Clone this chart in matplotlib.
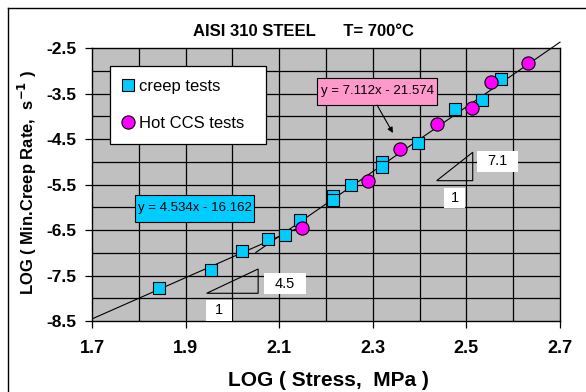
import matplotlib
matplotlib.use("Agg")
import matplotlib.pyplot as plt
from matplotlib.patches import Rectangle, Polygon
from matplotlib.lines import Line2D
import numpy as np

plt.rcParams['font.family'] = ['Liberation Sans', 'DejaVu Sans']

# ---- data ----
creep_x = [1.843, 1.954, 2.020, 2.077, 2.113, 2.144, 2.216, 2.216, 2.253,
           2.320, 2.320, 2.396, 2.476, 2.534, 2.573]
creep_y = [-7.78, -7.37, -6.96, -6.70, -6.60, -6.29, -5.75, -5.85, -5.52,
           -5.01, -5.11, -4.59, -3.83, -3.64, -3.19]
ccs_x = [2.149, 2.289, 2.358, 2.437, 2.511, 2.552, 2.631]
ccs_y = [-6.45, -5.42, -4.73, -4.18, -3.81, -3.24, -2.84]

fit_low = (4.534, -16.162)
fit_high = (7.112, -21.574)
fit_low_range = [1.7, 2.15]
fit_high_range = [2.05, 2.7]

x_ticks = [1.7, 1.9, 2.1, 2.3, 2.5, 2.7]
y_ticks = [-2.5, -3.5, -4.5, -5.5, -6.5, -7.5, -8.5]

fig = plt.figure(figsize=(5.86, 3.92), dpi=100)
ax = fig.add_axes([92/586, 1-321/392, 468/586, 273/392])
ax.set_facecolor('#C0C0C0')
ax.set_xlim(1.7, 2.7)
ax.set_ylim(-8.5, -2.5)

# grid
for gx in np.arange(1.8, 2.65, 0.1):
    ax.axvline(gx, color='black', lw=0.9, zorder=1)
for gy in np.arange(-8.0, -2.6, 0.5):
    ax.axhline(gy, color='black', lw=0.9, zorder=1)

ax.set_xticks(x_ticks)
ax.set_xticklabels([f"{v:.1f}" for v in x_ticks])
ax.set_yticks(y_ticks)
ax.set_yticklabels([f"{v:.1f}" for v in y_ticks])
ax.tick_params(axis='x', direction='out', length=5, width=0.9, pad=9, labelsize=13)
ax.tick_params(axis='y', direction='out', length=5, width=0.9, pad=6, labelsize=12.5)
for lab in ax.get_xticklabels() + ax.get_yticklabels():
    lab.set_fontweight('bold')
for s in ax.spines.values():
    s.set_linewidth(1.0)

# fit lines
xl = np.array(fit_low_range)
ax.plot(xl, fit_low[0]*xl + fit_low[1], color='black', lw=0.8, zorder=3)
xh = np.array(fit_high_range)
ax.plot(xh, fit_high[0]*xh + fit_high[1], color='black', lw=0.8, zorder=3, clip_on=False)

# data
ax.plot(creep_x, creep_y, 's', ms=8, mfc='#00CCFF', mec='black', mew=0.8,
        zorder=4, label='creep tests')
ax.plot(ccs_x, ccs_y, 'o', ms=9.5, mfc='#FF00FF', mec='black', mew=0.8,
        zorder=5, label='Hot CCS tests  ')

leg = ax.legend(loc='upper left', bbox_to_anchor=(0.0385, 0.934), borderaxespad=0,
                fontsize=12, frameon=True, fancybox=False, edgecolor='black',
                framealpha=1, handlelength=0.7, handletextpad=0.3,
                labelspacing=1.35, borderpad=0.75)
leg.get_frame().set_linewidth(0.9)
leg.set_zorder(6)

# equation boxes
def box(x0, x1, y0, y1, fc):
    ax.add_patch(Rectangle((x0, y0), x1-x0, y1-y0, facecolor=fc, edgecolor='black',
                           lw=0.8, zorder=7))

box(2.1808, 2.4372, -3.753, -3.159, '#FF99CC')
ax.text(2.309, -3.456, 'y = 7.112x - 21.574', ha='center', va='center', fontsize=9.5, zorder=8)
box(1.7919, 2.0462, -6.324, -5.731, '#00CCFF')
ax.text(1.919, -6.027, 'y = 4.534x - 16.162', ha='center', va='center', fontsize=9.5, zorder=8)

ax.annotate('', xy=(2.343, -4.368), xytext=(2.309, -3.753),
            arrowprops=dict(arrowstyle='-|>', color='black', lw=0.8,
                            mutation_scale=8, shrinkA=0, shrinkB=0), zorder=8)

# slope triangles
ax.add_patch(Polygon([(1.945, -7.891), (2.055, -7.891), (2.055, -7.357)], closed=True,
                     facecolor='none', edgecolor='black', lw=0.8, zorder=3))
ax.add_patch(Polygon([(2.4365, -5.416), (2.5135, -5.416), (2.5135, -4.792)], closed=True,
                     facecolor='none', edgecolor='black', lw=0.8, zorder=3))

def wbox(x0, x1, y0, y1, txt):
    ax.add_patch(Rectangle((x0, y0), x1-x0, y1-y0, facecolor='white', edgecolor='none',
                           zorder=7))
    ax.text((x0+x1)/2, (y0+y1)/2, txt, ha='center', va='center', fontsize=10.5, zorder=8)

wbox(2.0675, 2.1573, -7.907, -7.445, '4.5')
wbox(1.9436, 1.9991, -8.50, -8.038, '1')
wbox(2.522, 2.6094, -5.219, -4.764, '7.1')
wbox(2.4521, 2.497, -6.016, -5.570, '1')

# titles
fig.text(303/586, 1-32/392, 'AISI 310 STEEL      T= 700°C', ha='center', va='center',
         fontsize=12, fontweight='bold')
fig.text(328/586, 1-381/392, 'LOG ( Stress,  MPa )', ha='center', va='center',
         fontsize=15, fontweight='bold')
fig.text(27/586, 1-183/392, 'LOG ( Min.Creep Rate,  s$^{\\mathbf{-1}}$ )', ha='center',
         va='center', rotation=90, fontsize=12, fontweight='bold')

# outer border (left and top)
fig.add_artist(Line2D([8/586, 8/586], [0, 1-8/392], color='black', lw=1.0,
                      transform=fig.transFigure))
fig.add_artist(Line2D([8/586, 1], [1-8/392, 1-8/392], color='black', lw=1.0,
                      transform=fig.transFigure))

fig.savefig('out.png', dpi=100)
